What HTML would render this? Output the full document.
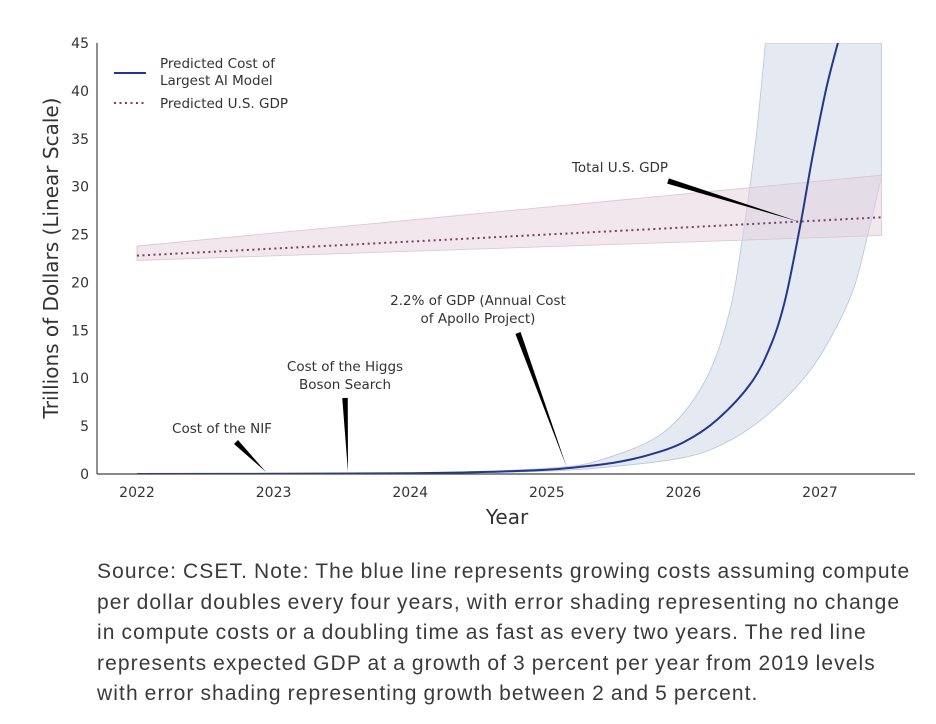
<!DOCTYPE html>
<html><head><meta charset="utf-8"><style>
body{margin:0;background:#fff;width:936px;height:724px;overflow:hidden;font-family:"Liberation Sans",sans-serif}
#cap{position:absolute;left:97px;top:557px;width:839px;font-size:21px;line-height:30.5px;color:#3a3a3a;white-space:nowrap;letter-spacing:1.1px;word-spacing:-1px}
</style></head><body>
<svg id="chart" width="936" height="550" style="position:absolute;left:0;top:0" font-family="DejaVu Sans, Liberation Sans, sans-serif"></svg>
<div id="cap">Source: CSET. Note: The blue line represents growing costs assuming compute<br>per dollar doubles every four years, with error shading representing no change<br>in compute costs or a doubling time as fast as every two years. The red line<br>represents expected GDP at a growth of 3 percent per year from 2019 levels<br>with error shading representing growth between 2 and 5 percent.</div>
<script>
const aiYears=[2022,2023,2024,2024.5,2025,2025.25,2025.5,2025.75,2026,2026.25,2026.5,2026.65,2026.75,2026.86,2026.95,2027.05,2027.15];
const aiCost=[0,0.02,0.08,0.2,0.45,0.75,1.2,2.0,3.3,5.7,9.6,13.8,18.5,26.3,33.5,40.5,46];
const bandLowYears=[2022,2024,2025,2025.5,2026,2026.3,2026.6,2026.9,2027.1,2027.25,2027.35,2027.45];
const bandLow=[0,0.05,0.3,0.8,1.7,3.2,6,10.3,14.8,19.5,25,31];
const bandHighYears=[2022,2024,2025,2025.4,2025.85,2026.15,2026.33,2026.43,2026.53,2026.6];
const bandHigh=[0,0.1,0.6,1.5,4.3,9.5,16.5,24.4,34.9,45];
const gdpYears=[2022,2027.45];
const gdp=[22.8,26.8];
const gdpLow=[22.3,24.9];
const gdpHigh=[23.8,31.2];
const xTicks=[2022,2023,2024,2025,2026,2027];
const yTicks=[0,5,10,15,20,25,30,35,40,45];
const NS='http://www.w3.org/2000/svg';
const svg=document.getElementById('chart');
const X=v=>137+(v-2022)*136.6;
const Y=v=>474-v*(431/45);
function mk(t,a,p){const e=document.createElementNS(NS,t);for(const k in a)e.setAttribute(k,a[k]);(p||svg).appendChild(e);return e;}
function P(xs,ys){return xs.map((x,i)=>[X(x),Y(ys[i])]);}
function smooth(p,start){let d=start?'M'+p[0][0]+','+p[0][1]:'L'+p[0][0]+','+p[0][1];
for(let i=0;i<p.length-1;i++){const p0=p[i-1]||p[i],p1=p[i],p2=p[i+1],p3=p[i+2]||p2;
const c1=[p1[0]+(p2[0]-p0[0])/6,p1[1]+(p2[1]-p0[1])/6],c2=[p2[0]-(p3[0]-p1[0])/6,p2[1]-(p3[1]-p1[1])/6];
d+=` C${c1[0].toFixed(1)},${c1[1].toFixed(1)} ${c2[0].toFixed(1)},${c2[1].toFixed(1)} ${p2[0].toFixed(1)},${p2[1].toFixed(1)}`;}
return d;}
const defs=mk('defs',{});const cp=mk('clipPath',{id:'clip'},defs);mk('rect',{x:97,y:43,width:820,height:431},cp);
const plot=mk('g',{'clip-path':'url(#clip)'});
let lowP=P(bandLowYears,bandLow);
let d=smooth(P(bandHighYears,bandHigh),true)+` L${X(2027.45)},${Y(45)} L${lowP[lowP.length-1][0]},${lowP[lowP.length-1][1]}`+smooth(lowP.slice().reverse(),false)+'Z';
let b=mk('path',{d:d,fill:'#c9d4e6','fill-opacity':'0.5',stroke:'#b8c4da','stroke-width':'0.8'},plot);


let gp=P(gdpYears,gdpHigh).concat(P(gdpYears,gdpLow).reverse()).map(p=>p.join(','));
let g=mk('polygon',{points:gp.join(' '),fill:'#e3cfdc','fill-opacity':'0.5',stroke:'#dcc3d3','stroke-width':'0.8'},plot);


let gl=mk('polyline',{points:P(gdpYears,gdp).map(p=>p.join(',')).join(' '),fill:'none',stroke:'#7d3d62','stroke-width':'2','stroke-dasharray':'2 3.5'},plot);


let al=mk('path',{d:smooth(P(aiYears,aiCost),true),fill:'none',stroke:'#22388a','stroke-width':'2'},plot);


let ya=mk('line',{x1:97,y1:43,x2:97,y2:474,stroke:'#444','stroke-width':'1.2'});


let xa=mk('line',{x1:97,y1:474,x2:915,y2:474,stroke:'#444','stroke-width':'1.2'});


xTicks.forEach(v=>{let t=mk('text',{x:X(v),y:497,'text-anchor':'middle','font-size':'14',fill:'#333'});t.textContent=v;

});
yTicks.forEach(v=>{let t=mk('text',{x:89,y:Y(v)+5,'text-anchor':'end','font-size':'14',fill:'#333'});t.textContent=v;

});
let xt=mk('text',{x:507,y:524,'text-anchor':'middle','font-size':'20',fill:'#333'});xt.textContent='Year';


let yt=mk('text',{x:0,y:0,'text-anchor':'middle','font-size':'20',fill:'#333',transform:'translate(58,258) rotate(-90)'});yt.textContent='Trillions of Dollars (Linear Scale)';


mk('line',{x1:114,y1:73,x2:146,y2:73,stroke:'#22388a','stroke-width':'2'});
mk('line',{x1:114,y1:103,x2:146,y2:103,stroke:'#7d3d62','stroke-width':'2','stroke-dasharray':'2 3.5'});
[['Predicted Cost of',68],['Largest AI Model',85],['Predicted U.S. GDP',108]].forEach(([s,y])=>{let t=mk('text',{x:160,y:y,'font-size':'13.5',fill:'#333'});t.textContent=s;

});
function wedge(x1,y1,x2,y2,w){const dx=x2-x1,dy=y2-y1,L=Math.hypot(dx,dy),nx=-dy/L*w/2,ny=dx/L*w/2;
return mk('polygon',{points:`${x1+nx},${y1+ny} ${x1-nx},${y1-ny} ${x2},${y2}`,fill:'#000'});}
const ann=[[['Cost of the NIF'],222,[433],[236,442,266,472]],[['Cost of the Higgs','Boson Search'],345,[371,389],[345,398,348,472]],[['2.2% of GDP (Annual Cost','of Apollo Project)'],478,[305,323],[518,333,567,468]],[['Total U.S. GDP'],620,[172],[668,181,800,222]]];
ann.forEach(([lines,cx,ys,w])=>{lines.forEach((s,i)=>{let t=mk('text',{x:cx,y:ys[i],'text-anchor':'middle','font-size':'13.5',fill:'#333'});t.textContent=s;

});
let p=wedge(w[0],w[1],w[2],w[3],5.5);

});
</script>
</body></html>
